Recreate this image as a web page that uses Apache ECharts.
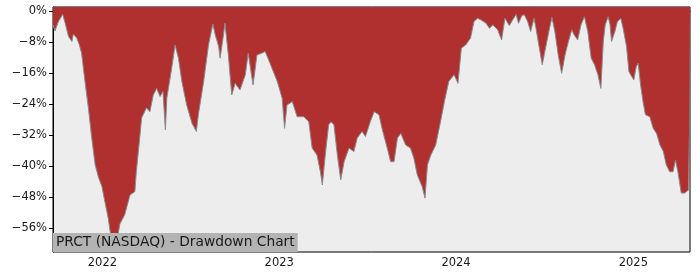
<!DOCTYPE html>
<html>
<head>
<meta charset="utf-8">
<script src="https://cdn.jsdelivr.net/npm/echarts@6/dist/echarts.min.js"></script>
<style>html,body{margin:0;padding:0;background:#fff}#c{width:700px;height:280px}</style>
</head>
<body>
<div id="c"></div>
<script>
const dates = [
'2021-09-21','2021-09-25','2021-10-02','2021-10-11','2021-10-16','2021-10-23','2021-10-30','2021-11-02','2021-11-09','2021-11-14',
'2021-11-19','2021-11-26','2021-12-03','2021-12-10','2021-12-17','2021-12-24','2021-12-31','2022-01-06','2022-01-13','2022-01-20',
'2022-01-27','2022-02-01','2022-02-06','2022-02-16','2022-02-27','2022-03-09','2022-03-12','2022-03-19','2022-03-23','2022-04-02',
'2022-04-09','2022-04-16','2022-04-23','2022-04-30','2022-05-06','2022-05-11','2022-05-14','2022-05-24','2022-05-31','2022-06-07',
'2022-06-14','2022-06-24','2022-07-05','2022-07-14','2022-07-18','2022-07-29','2022-08-08','2022-08-17','2022-08-22','2022-08-29',
'2022-09-01','2022-09-07','2022-09-11','2022-09-18','2022-09-25','2022-10-02','2022-10-12','2022-10-23','2022-10-29','2022-11-08',
'2022-11-16','2022-11-26','2022-12-03','2022-12-13','2022-12-17','2022-12-28','2023-01-07','2023-01-12','2023-01-17','2023-01-28',
'2023-02-07','2023-02-21','2023-03-03','2023-03-10','2023-03-20','2023-03-27','2023-03-31','2023-04-06','2023-04-13','2023-04-18',
'2023-04-24','2023-05-01','2023-05-08','2023-05-15','2023-05-25','2023-06-04','2023-06-11','2023-06-21','2023-06-28','2023-07-08',
'2023-07-16','2023-07-26','2023-08-02','2023-08-12','2023-08-19','2023-08-26','2023-09-02','2023-09-09','2023-09-19','2023-09-29',
'2023-10-06','2023-10-13','2023-10-23','2023-10-29','2023-11-03','2023-11-10','2023-11-20','2023-11-30','2023-12-08','2023-12-17',
'2023-12-28','2024-01-05','2024-01-12','2024-01-21','2024-01-31','2024-02-07','2024-02-14','2024-02-21','2024-03-03','2024-03-10',
'2024-03-17','2024-03-27','2024-04-04','2024-04-11','2024-04-20','2024-04-27','2024-05-04','2024-05-09','2024-05-16','2024-05-21',
'2024-05-28','2024-06-03','2024-06-10','2024-06-14','2024-06-21','2024-06-27','2024-07-05','2024-07-12','2024-07-17','2024-07-23',
'2024-07-30','2024-08-06','2024-08-13','2024-08-20','2024-08-27','2024-09-01','2024-09-08','2024-09-15','2024-09-22','2024-09-29',
'2024-10-06','2024-10-13','2024-10-20','2024-10-26','2024-10-31','2024-11-04','2024-11-10','2024-11-14','2024-11-17','2024-11-24',
'2024-11-29','2024-12-06','2024-12-11','2024-12-18','2024-12-23','2024-12-29','2025-01-02','2025-01-07','2025-01-11','2025-01-16',
'2025-01-21','2025-01-26','2025-02-04','2025-02-11','2025-02-18','2025-02-25','2025-03-04','2025-03-10','2025-03-17','2025-03-24',
'2025-03-29','2025-04-03','2025-04-10','2025-04-17','2025-04-25','2025-04-28'
];
const drawdown = [
-3.6,-5.2,-2.8,-0.9,-3.1,-6.6,-7.9,-6.0,-7.0,-8.6,
-10.9,-18.2,-25.0,-32.8,-39.7,-43.0,-45.3,-49.2,-53.5,-59.5,
-61.7,-58.6,-55.0,-52.6,-47.5,-46.6,-41.5,-32.8,-27.6,-25.0,
-26.0,-21.7,-20.0,-22.1,-20.8,-30.7,-22.5,-14.8,-8.8,-12.2,
-18.2,-24.3,-29.0,-31.1,-26.8,-18.2,-8.8,-3.4,-6.2,-9.2,
-12.2,-7.0,-3.2,-11.4,-21.7,-18.7,-20.4,-16.5,-10.9,-19.1,
-11.4,-10.9,-10.5,-13.5,-14.8,-18.2,-22.5,-30.3,-24.3,-23.4,
-27.3,-27.3,-28.6,-35.4,-37.2,-41.5,-44.9,-37.2,-29.4,-28.6,
-29.4,-37.2,-43.6,-38.9,-35.4,-36.3,-32.8,-31.1,-32.4,-28.6,
-26.0,-26.8,-30.7,-35.4,-38.9,-38.9,-32.8,-31.6,-34.6,-35.4,
-38.0,-42.3,-45.3,-48.3,-39.7,-37.2,-34.6,-28.6,-23.4,-18.2,
-16.5,-18.7,-9.6,-8.8,-7.0,-2.8,-1.9,-2.3,-3.2,-4.5,
-3.6,-4.9,-7.5,-1.9,-3.8,-2.3,-0.9,-3.2,-1.2,-1.0,
-2.8,-5.3,-1.9,-4.5,-9.6,-13.9,-8.8,-4.5,-1.7,-5.3,
-11.4,-16.1,-11.4,-7.9,-4.9,-6.2,-7.5,-3.6,-1.5,-5.3,
-12.2,-13.9,-16.5,-20.0,-7.9,-3.6,-1.5,-3.6,-7.9,-5.3,
-2.8,-1.9,-4.5,-9.2,-15.7,-17.0,-17.8,-14.4,-13.5,-19.1,
-23.4,-26.8,-27.3,-30.3,-31.6,-34.6,-36.3,-39.7,-41.5,-41.5,
-38.5,-41.5,-47.0,-47.0,-46.2,-46.0
];
const yTicks = [0, -8, -16, -24, -32, -40, -48, -56];
const xTickYears = ['2022-01-01', '2023-01-01', '2024-01-01', '2025-01-01'];
const titleText = 'PRCT (NASDAQ) - Drawdown Chart';

const chart = echarts.init(document.getElementById('c'), null, {renderer: 'canvas'});
const font = 'DejaVu Sans';
const toMs = d => Date.UTC(+d.slice(0, 4), +d.slice(5, 7) - 1, +d.slice(8, 10));
const xTickVals = xTickYears.map(toMs);
const seriesData = dates.map((d, i) => [toMs(d), drawdown[i]]);
chart.setOption({
  animation: false,
  backgroundColor: '#ffffff',
  title: {
    text: titleText,
    left: 53, top: 233,
    padding: [2, 3, 2, 3],
    backgroundColor: '#b3b3b3',
    textStyle: {fontFamily: font, fontSize: 13.8, fontWeight: 'normal', color: '#1a1a1a', lineHeight: 15}
  },
  grid: {
    left: 53, right: 10, top: 7, bottom: 28,
    show: true, backgroundColor: '#ededed', borderColor: '#000', borderWidth: 1
  },
  xAxis: {
    type: 'value',
    min: seriesData[0][0], max: seriesData[seriesData.length - 1][0],
    axisLine: {show: true, lineStyle: {color: '#000', width: 1}},
    axisTick: {show: true, inside: false, length: 4, lineStyle: {color: '#000'}, customValues: xTickVals},
    axisLabel: {
      fontFamily: font, fontSize: 11.5, color: '#1a1a1a', margin: 5,
      customValues: xTickVals,
      formatter: v => String(new Date(v).getUTCFullYear())
    },
    splitLine: {show: false}
  },
  yAxis: {
    type: 'value',
    min: -62.2, max: 1,
    axisLine: {show: true, lineStyle: {color: '#000', width: 1}},
    axisTick: {show: true, length: 4, lineStyle: {color: '#000'}, customValues: yTicks},
    axisLabel: {
      fontFamily: font, fontSize: 11.5, color: '#1a1a1a', margin: 6,
      customValues: yTicks,
      formatter: v => (v < 0 ? '\u2212' + Math.abs(v) : String(v)) + '%'
    },
    splitLine: {show: false}
  },
  series: [{
    type: 'line',
    data: seriesData,
    showSymbol: false,
    symbol: 'none',
    lineStyle: {color: '#8a8a8a', width: 1},
    areaStyle: {origin: 'end', color: '#b03030', opacity: 1},
    z: 2
  }]
});
</script>
</body>
</html>
